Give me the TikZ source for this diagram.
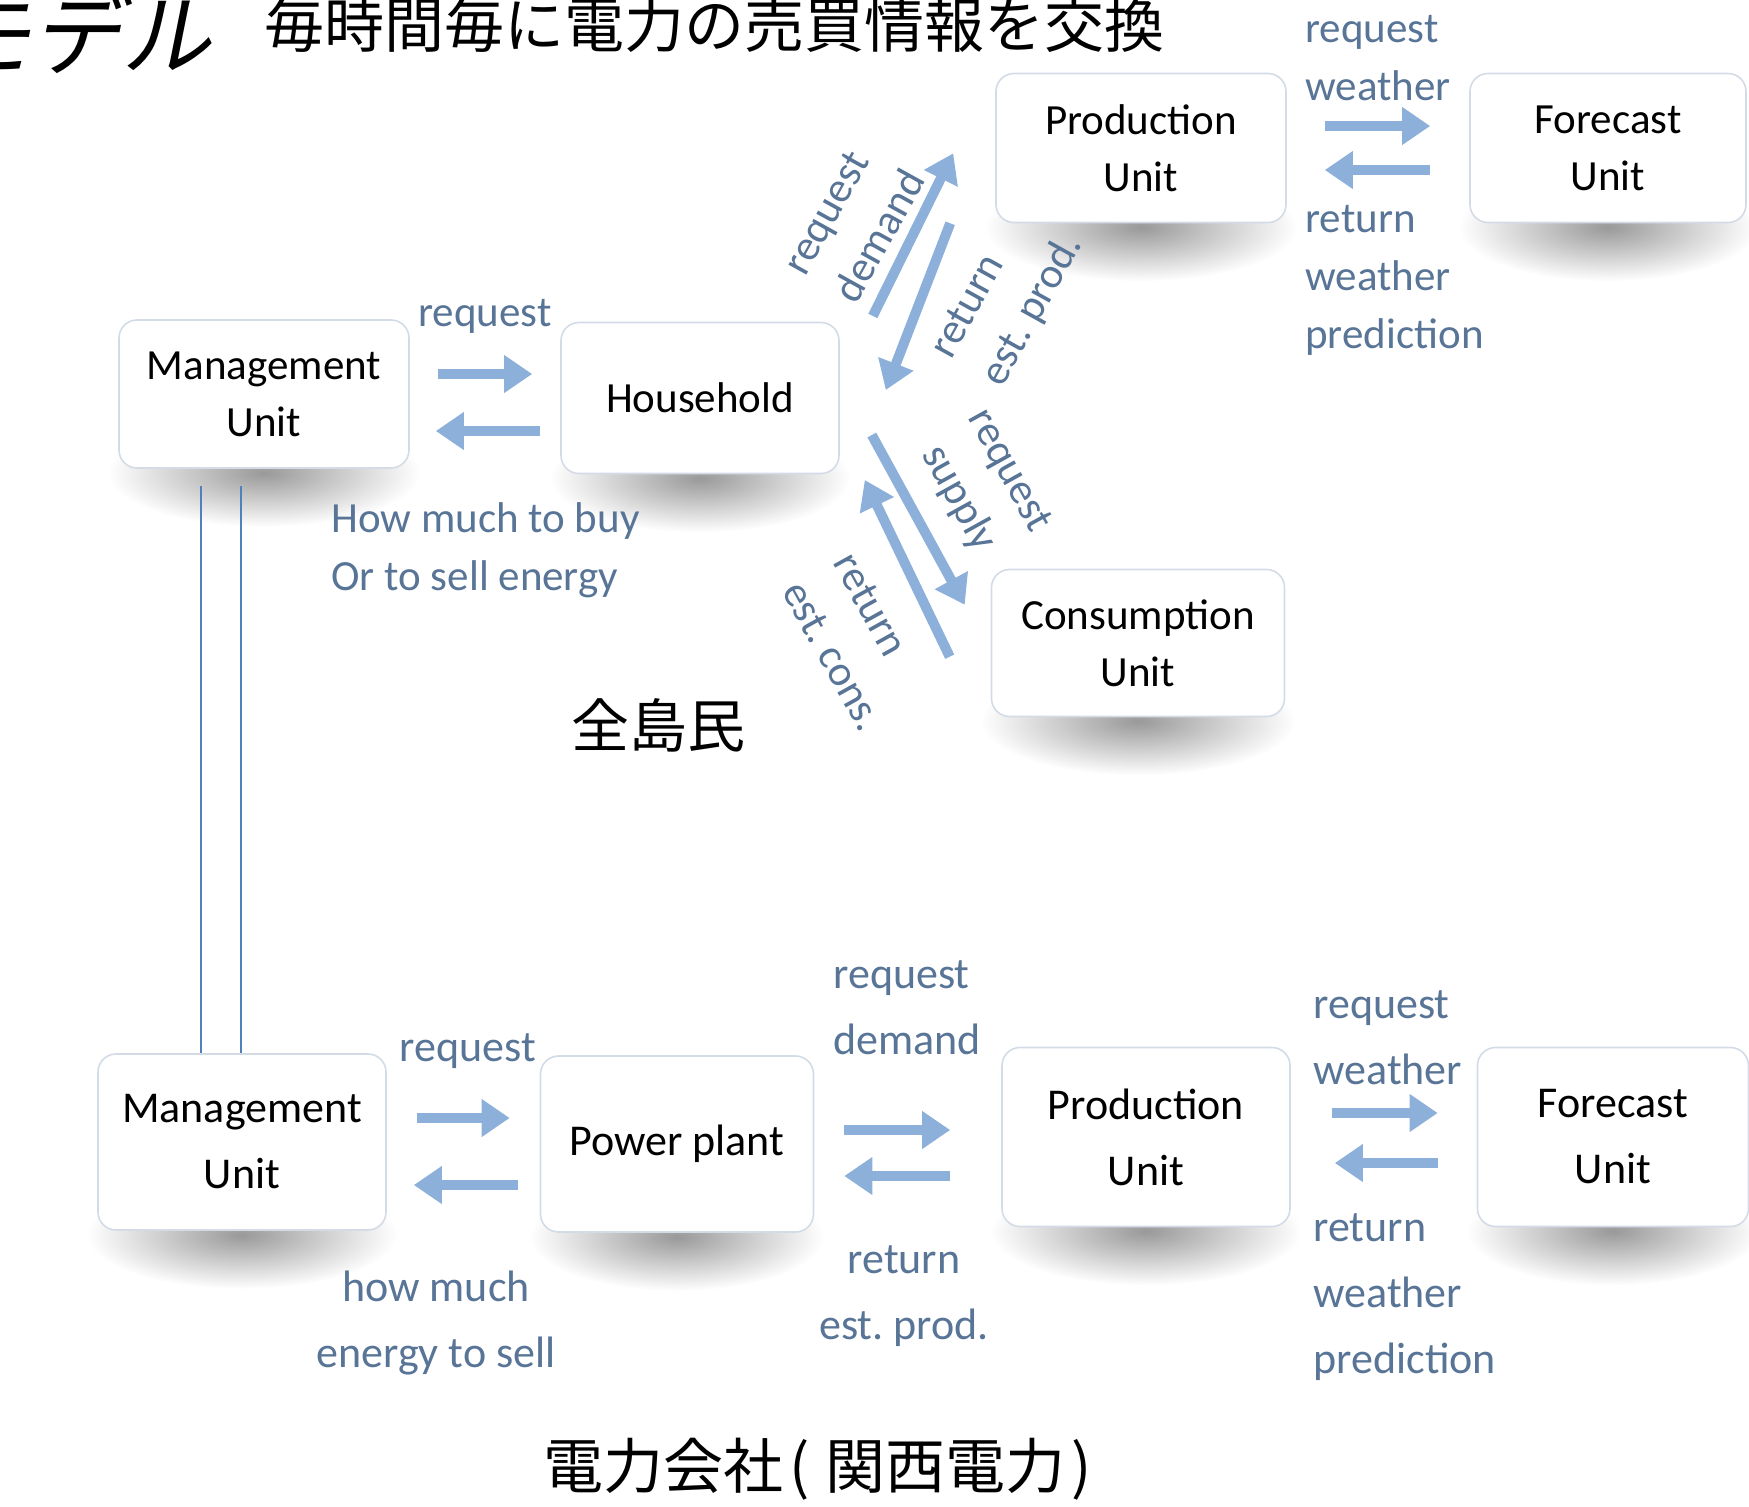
\documentclass[tikz,border=0pt]{standalone}
\usepackage{fontspec}
\setmainfont{Carlito}
\newfontfamily\jp{Noto Sans CJK JP}
\newfontfamily\jpit[FakeSlant=0.2]{Noto Sans CJK JP}
\usetikzlibrary{arrows.meta,calc,fadings}
\frenchspacing
\definecolor{arrowblue}{HTML}{8DB0DA}
\definecolor{labelblue}{HTML}{587496}
\definecolor{linkblue}{HTML}{4F81BD}
\definecolor{boxline}{HTML}{D3DCE6}
\tikzfading[name=softshadow, inner color=transparent!0, outer color=transparent!100]
\pgfdeclarelayer{bgwhite}
\pgfdeclarelayer{background}
\pgfsetlayers{bgwhite,background,main}
\tikzset{
  unit/.style={draw=boxline, line width=0.8pt, fill=white, rounded corners=9pt, align=center, inner sep=0pt,
    font=\fontsize{21.5}{28.5}\selectfont},
  unitb/.style={unit, font=\fontsize{22}{33}\selectfont},
  lbl/.style={text=labelblue, inner sep=0pt, font=\fontsize{21.5}{29}\selectfont},
  lblb/.style={text=labelblue, inner sep=0pt, font=\fontsize{22}{33}\selectfont},
  blk/.style={draw=arrowblue, line width=5pt, -{Triangle[width=18pt,length=14pt]}},
  dline/.style={draw=linkblue, line width=1pt},
  jptext/.style={inner sep=0pt, text=black},
  boxshadow/.style={fill=black, opacity=0.4, path fading=softshadow},
}
\begin{document}
\begin{tikzpicture}[x=0.5pt,y=-0.5pt]
\begin{pgfonlayer}{bgwhite}
\fill[white] (0,0) rectangle (1749,1506);
\end{pgfonlayer}
\useasboundingbox (0,0) rectangle (1749,1506);

% title
\node[jptext, font=\jpit\fontsize{45}{45}\selectfont, anchor=base east] (t0) at (212,68) {モデル};
\node[jptext, font=\jp\fontsize{30}{30}\selectfont] (t1) at (714,25) {毎時間毎に電力の売買情報を交換};

% top group
\node[unit, minimum width=145pt, minimum height=74pt] (mu1) at (264,394) {Management\\Unit};
\node[unit, minimum width=139pt, minimum height=75.5pt] (hh) at (700,398) {Household};
\node[unit, minimum width=145pt, minimum height=74.5pt] (pu1) at (1141,148) {Production\\Unit};
\node[unit, minimum width=138pt, minimum height=74.5pt] (fu1) at (1608,148) {Forecast\\Unit};
\node[unit, minimum width=146.5pt, minimum height=73.5pt] (cu) at (1138,643) {Consumption\\Unit};

% bottom group
\node[unitb, minimum width=144pt, minimum height=88pt] (mu2) at (242,1142) {Management\\Unit};
\node[unitb, minimum width=136.5pt, minimum height=88pt] (pp) at (677,1144) {Power plant};
\node[unitb, minimum width=144pt, minimum height=89.5pt] (pu2) at (1146,1137) {Production\\Unit};
\node[unitb, minimum width=135.5pt, minimum height=89.5pt] (fu2) at (1613,1137) {Forecast\\Unit};

% soft shadows below the boxes
\begin{pgfonlayer}{background}
\foreach \n/\w in {mu1/78, hh/75, pu1/78, fu1/74.5, cu/78.5, mu2/77.5, pp/73.5, pu2/77.5, fu2/73}
  \fill[boxshadow] ($(\n.south)+(0,4)$) ellipse [x radius=\w pt, y radius=27pt];
\end{pgfonlayer}

% top arrows
\draw[blk] ($(mu1.east)+(28,-20)$) -- ($(hh.west)+(-28,-24)$);
\draw[blk] ($(hh.west)+(-20,33)$) -- ($(mu1.east)+(26,37)$);
\draw[blk] ($(pu1.east)+(38,-22)$) -- ($(fu1.west)+(-39,-22)$);
\draw[blk] ($(fu1.west)+(-39,22)$) -- ($(pu1.east)+(38,22)$);
\draw[blk] ($(hh.east)+(33,-82)$) -- ($(pu1.south west)+(-42,-70)$);
\draw[blk] ($(pu1.south west)+(-45,0)$) -- ($(hh.east)+(46,-8)$);
\draw[blk] ($(hh.east)+(32,37)$) -- ($(cu.north west)+(-26,36)$);
\draw[blk] ($(cu.north west)+(-41,88)$) -- ($(hh.east)+(25,82)$);

% bottom arrows
\draw[blk] ($(mu2.east)+(30,-24)$) -- ($(pp.west)+(-30,-26)$);
\draw[blk] ($(pp.west)+(-22,41)$) -- ($(mu2.east)+(27,43)$);
\draw[blk] ($(pp.east)+(30,-14)$) -- ($(pu2.west)+(-51,-7)$);
\draw[blk] ($(pu2.west)+(-51,39)$) -- ($(pp.east)+(30,32)$);
\draw[blk] ($(pu2.east)+(41,-24)$) -- ($(fu2.west)+(-39,-24)$);
\draw[blk] ($(fu2.west)+(-39,26)$) -- ($(pu2.east)+(44,26)$);

% double link
\draw[dline] ($(mu1.south)+(-63,17)$) coordinate (da) -- (da |- mu2.north);
\draw[dline] ($(mu1.south)+(-23,17)$) coordinate (db) -- (db |- mu2.north);

% top labels
\node[lbl] (l1) at (485,316) {request};
\node[lbl, align=left, anchor=west] (l2) at (331,550) {How much to buy\\Or to sell energy};
\node[lbl, align=left, anchor=west] (l3) at (1305,58) {request\\weather};
\node[lbl, align=left, anchor=west] (l4) at (1305,280) {return\\weather\\prediction};
\node[lbl, rotate=61, align=left] (r1) at (854,222) {request\\demand};
\node[lbl, rotate=61, align=left] (r2) at (1008,297) {return\\est. prod.};
\node[lbl, rotate=-61, align=center] (r3) at (983,485) {request\\supply};
\node[lbl, rotate=-61, align=left] (r4) at (858,642) {return\\est. cons.};

% bottom labels
\node[lblb] (b1) at (468,1051) {request};
\node[lblb, align=center] (b2) at (436,1323) {how much\\energy to sell};
\node[lblb, align=left, anchor=west] (b3) at (833,1008) {request\\demand};
\node[lblb, align=center] (b4) at (904,1296) {return\\est. prod.};
\node[lblb, align=left, anchor=west] (b5) at (1313,1038) {request\\weather};
\node[lblb, align=left, anchor=west] (b6) at (1313,1297) {return\\weather\\prediction};

% japanese captions
\node[jptext, font=\jp\fontsize{29}{29}\selectfont] (j1) at (658,725) {全島民};
\node[jptext, font=\jp\fontsize{30}{30}\selectfont] (j2) at (818,1469) {電力会社\kern3pt(\kern8pt関西電力\kern3pt)};
\end{tikzpicture}
\end{document}
